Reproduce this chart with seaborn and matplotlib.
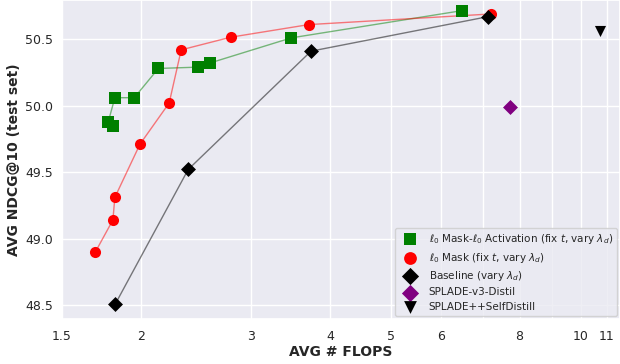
import numpy as np
import pandas as pd
import seaborn as sns
import matplotlib.pyplot as plt
from matplotlib.ticker import FixedLocator, NullFormatter

# l0 Mask-l0 Activation (fix t, vary lambda_d)
mask_act_flops = [1.81, 1.777, 1.82, 1.954, 2.134, 2.47, 2.573, 3.47, 6.48]
mask_act_ndcg = [49.85, 49.88, 50.06, 50.06, 50.28, 50.29, 50.32, 50.51, 50.715]

# l0 Mask (fix t, vary lambda_d)
mask_flops = [1.695, 1.807, 1.82, 1.995, 2.22, 2.32, 2.78, 3.70, 7.21]
mask_ndcg = [48.90, 49.14, 49.31, 49.71, 50.02, 50.42, 50.515, 50.61, 50.69]

# Baseline (vary lambda_d)
base_flops = [1.824, 2.38, 3.73, 7.13]
base_ndcg = [48.51, 49.52, 50.41, 50.67]

splade_v3_flops = [7.73]
splade_v3_ndcg = [49.99]
selfdistill_flops = [10.74]
selfdistill_ndcg = [50.56]

xticks = [1.5, 2, 3, 4, 5, 6, 8, 10, 11]

sns.set_theme(style="darkgrid")
fig, ax = plt.subplots(figsize=(6.2, 3.64), dpi=100)

sns.lineplot(x=mask_act_flops, y=mask_act_ndcg, sort=False, estimator=None,
             color="green", alpha=0.5, linewidth=1, ax=ax)
sns.lineplot(x=mask_flops, y=mask_ndcg, sort=False, estimator=None,
             color="red", alpha=0.5, linewidth=1, ax=ax)
sns.lineplot(x=base_flops, y=base_ndcg, sort=False, estimator=None,
             color="black", alpha=0.5, linewidth=1, ax=ax)

sns.scatterplot(x=mask_act_flops, y=mask_act_ndcg, marker="s", color="green", s=64,
                linewidth=0, label=r"$\ell_0$ Mask-$\ell_0$ Activation (fix $t$, vary $\lambda_d$)",
                ax=ax, zorder=3)
sns.scatterplot(x=mask_flops, y=mask_ndcg, marker="o", color="red", s=64,
                linewidth=0, label=r"$\ell_0$ Mask (fix $t$, vary $\lambda_d$)", ax=ax, zorder=3)
sns.scatterplot(x=base_flops, y=base_ndcg, marker="D", color="black", s=58,
                linewidth=0, label=r"Baseline (vary $\lambda_d$)", ax=ax, zorder=3)
sns.scatterplot(x=splade_v3_flops, y=splade_v3_ndcg, marker="D", color="purple", s=58,
                linewidth=0, label="SPLADE-v3-Distil", ax=ax, zorder=3)
sns.scatterplot(x=selfdistill_flops, y=selfdistill_ndcg, marker="v", color="black", s=64,
                linewidth=0, label="SPLADE++SelfDistill", ax=ax, zorder=3)

ax.set_xscale("log")
ax.xaxis.set_major_locator(FixedLocator(xticks))
ax.set_xticklabels([str(t) for t in xticks])
ax.xaxis.set_minor_locator(FixedLocator([7, 9]))
ax.xaxis.set_minor_formatter(NullFormatter())
ax.grid(which="minor", axis="x", color="white", linewidth=1)
ax.tick_params(axis="x", which="minor", length=0)
ax.set_xlim(1.5, 11.55)
ax.set_ylim(48.395, 50.795)

ax.set_xlabel("AVG # FLOPS", fontweight="bold", fontsize=10, labelpad=1)
ax.set_ylabel("AVG NDCG@10 (test set)", fontweight="bold", fontsize=10, labelpad=3)
ax.tick_params(labelsize=9, length=0)
ax.tick_params(axis="y", pad=6.5)
ax.tick_params(axis="x", pad=8)
ax.legend(loc="lower right", fontsize=7.5, frameon=True, borderaxespad=0.3,
          markerscale=1.15, labelspacing=0.42)

fig.subplots_adjust(left=0.1, right=1.0, top=1.0, bottom=0.1236)
plt.savefig("out.png", dpi=100)
